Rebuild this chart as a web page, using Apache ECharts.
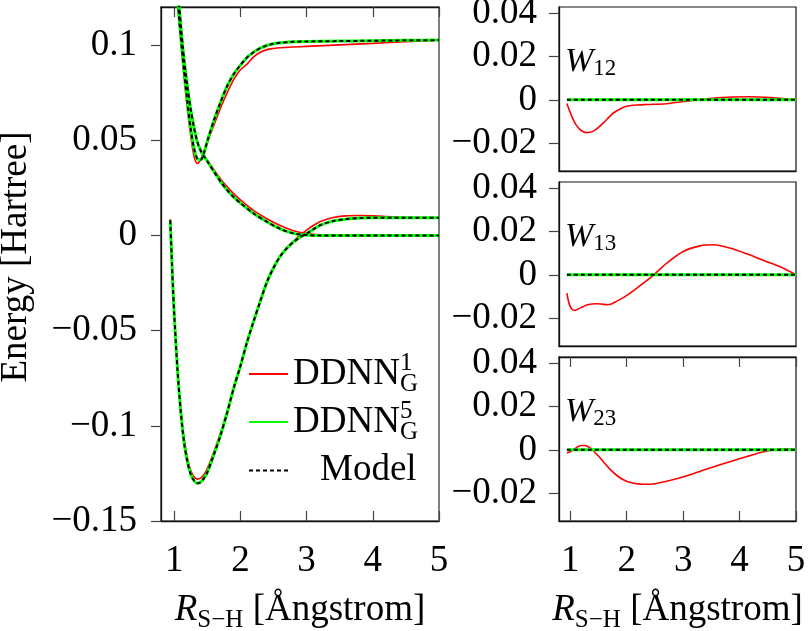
<!DOCTYPE html>
<html>
<head>
<meta charset="utf-8">
<script src="https://cdn.jsdelivr.net/npm/echarts@6/dist/echarts.min.js"></script>
<style>html,body{margin:0;padding:0;background:#fff;}#c{width:810px;height:631px;}</style>
</head>
<body>
<div id="c"></div>
<script>
// ---------- data ----------
const xTicks = [1, 2, 3, 4, 5];
const yTicksLeft = [-0.15, -0.1, -0.05, 0, 0.05, 0.1];
const yTicksRight = [-0.02, 0, 0.02, 0.04];

// lowest curve
const xA = [0.94, 0.96, 0.98, 1.0, 1.05, 1.1, 1.15, 1.2, 1.25, 1.3, 1.35, 1.4, 1.45, 1.5, 1.6, 1.7, 1.8, 1.9, 2.0, 2.1, 2.2, 2.3, 2.4, 2.5, 2.6, 2.7, 2.8, 2.9, 3.0, 3.1, 3.2, 3.4, 3.6, 3.8, 4.0, 4.5, 5.0];
const modelA = [0.008, -0.010, -0.027, -0.0415, -0.071, -0.093, -0.109, -0.119, -0.1255, -0.1288, -0.1302, -0.1296, -0.1275, -0.1245, -0.115, -0.105, -0.093, -0.080, -0.0685, -0.056, -0.045, -0.0345, -0.0245, -0.017, -0.011, -0.0068, -0.0035, -0.001, 0.001, 0.0032, 0.0053, 0.0076, 0.0086, 0.0091, 0.0093, 0.0093, 0.0093];
const red1A = [0.0085, -0.009, -0.026, -0.0405, -0.070, -0.0915, -0.107, -0.117, -0.1235, -0.1268, -0.128, -0.1275, -0.1255, -0.1225, -0.1135, -0.1035, -0.0925, -0.0805, -0.069, -0.0565, -0.0455, -0.035, -0.025, -0.0175, -0.0112, -0.0065, -0.003, 0.0002, 0.0028, 0.0052, 0.0072, 0.0094, 0.0103, 0.0105, 0.0103, 0.0095, 0.0093];

// upper curve (with minimum)
const xB = [0.94, 1.0, 1.05, 1.1, 1.15, 1.2, 1.25, 1.3, 1.35, 1.4, 1.45, 1.5, 1.6, 1.7, 1.8, 1.9, 2.0, 2.1, 2.2, 2.3, 2.4, 2.5, 2.6, 2.8, 3.0, 3.5, 4.0, 4.5, 5.0];
const modelB = [0.17, 0.143, 0.124, 0.104, 0.086, 0.0695, 0.056, 0.0455, 0.0402, 0.0398, 0.0435, 0.0495, 0.0605, 0.070, 0.0785, 0.0848, 0.0895, 0.0935, 0.0963, 0.0984, 0.0998, 0.1007, 0.1012, 0.1017, 0.1019, 0.1021, 0.1023, 0.1025, 0.1026];
const red1B = [0.17, 0.142, 0.122, 0.102, 0.083, 0.066, 0.052, 0.0415, 0.0378, 0.040, 0.0445, 0.049, 0.058, 0.067, 0.075, 0.082, 0.087, 0.090, 0.0938, 0.0962, 0.0976, 0.0982, 0.0986, 0.099, 0.0993, 0.1001, 0.1009, 0.1018, 0.1026];

// middle (repulsive) curve
const xC = [0.94, 1.0, 1.05, 1.1, 1.15, 1.2, 1.25, 1.3, 1.35, 1.4, 1.45, 1.5, 1.6, 1.7, 1.8, 1.9, 2.0, 2.2, 2.4, 2.6, 2.8, 3.0, 3.2, 3.5, 4.0, 4.5, 5.0];
const modelC = [0.21, 0.16, 0.132, 0.11, 0.092, 0.078, 0.066, 0.0565, 0.049, 0.0445, 0.0415, 0.039, 0.0335, 0.0283, 0.0238, 0.0201, 0.017, 0.0115, 0.0072, 0.0035, 0.0011, 0.0002, 0.0, 0.0, 0.0, 0.0, 0.0];
const red1C = [0.21, 0.16, 0.132, 0.11, 0.092, 0.078, 0.066, 0.057, 0.0495, 0.045, 0.042, 0.0395, 0.0345, 0.0297, 0.0255, 0.0218, 0.0187, 0.013, 0.0088, 0.0052, 0.0025, 0.001, 0.0004, 0.0002, 0.0001, 0.0, 0.0];

// couplings (DDNN^1); DDNN^5 and model are zero
const xW12 = [0.94, 1.0, 1.05, 1.1, 1.17, 1.23, 1.29, 1.35, 1.41, 1.5, 1.59, 1.7, 1.77, 1.9, 2.0, 2.2, 2.36, 2.7, 3.07, 3.42, 3.78, 4.19, 4.6, 5.0];
const red1W12 = [-0.0017, -0.0060, -0.0091, -0.0115, -0.0137, -0.0148, -0.0152, -0.0150, -0.0145, -0.0128, -0.0106, -0.0077, -0.006, -0.0040, -0.0030, -0.0024, -0.0022, -0.0018, -0.0006, 0.0005, 0.0012, 0.0014, 0.0009, 0.0001];
const xW13 = [0.94, 0.97, 1.0, 1.04, 1.08, 1.13, 1.2, 1.29, 1.38, 1.47, 1.56, 1.65, 1.74, 1.82, 1.94, 2.06, 2.18, 2.3, 2.48, 2.71, 3.0, 3.3, 3.54, 3.84, 4.13, 4.43, 4.73, 5.0];
const red1W13 = [-0.0085, -0.0125, -0.0148, -0.0162, -0.0165, -0.0160, -0.0151, -0.0140, -0.0135, -0.0134, -0.0136, -0.0139, -0.0134, -0.0123, -0.0106, -0.0085, -0.0062, -0.0038, 0.0, 0.0054, 0.0108, 0.0134, 0.0139, 0.0123, 0.0097, 0.0066, 0.0036, 0.0];
const xW23 = [0.94, 1.0, 1.07, 1.14, 1.2, 1.26, 1.32, 1.38, 1.45, 1.53, 1.62, 1.71, 1.82, 1.94, 2.08, 2.24, 2.36, 2.5, 2.71, 3.07, 3.42, 3.78, 4.13, 4.43, 4.73, 4.85, 5.0];
const red1W23 = [-0.0015, -0.0009, 0.0003, 0.0015, 0.002, 0.002, 0.0014, 0.0003, -0.0016, -0.0038, -0.0066, -0.0092, -0.0118, -0.0139, -0.0153, -0.0159, -0.016, -0.0157, -0.0146, -0.012, -0.0089, -0.0059, -0.0031, -0.0009, 0.0003, 0.0005, 0.0];
const xZero = [0.94, 5.0];
const zeroW = [0, 0];

// ---------- chart ----------
const FONT = 'Liberation Serif';
const FS = 37;
const pts = (xs, ys) => xs.map((x, i) => [x, ys[i]]);
const fmt = v => (v < 0 ? '\u2212' : '') + String(Math.abs(v));

const STY = {
  DDNN1: { color: '#ff0000', width: 1.6, type: 'solid' },
  DDNN5: { color: '#00ff00', width: 3, type: 'solid' },
  Model: { color: '#000000', width: 2, type: [4, 3] }
};
function ser(name, xs, ys, idx) {
  const s = STY[name];
  return {
    type: 'line', name: name, xAxisIndex: idx.x, yAxisIndex: idx.y,
    data: pts(xs, ys), showSymbol: false, symbol: 'none',
    smooth: 0.3, clip: true,
    color: s.color,
    lineStyle: { color: s.color, width: s.width, type: s.type },
    z: name === 'Model' ? 4 : (name === 'DDNN5' ? 3 : 2),
    silent: true
  };
}

const gridL = { left: 161, top: 7, width: 278, height: 514 };
const gR = [
  { left: 559, top: 7, width: 237, height: 164 },
  { left: 559, top: 182, width: 237, height: 164 },
  { left: 559, top: 357, width: 237, height: 164 }
];
const grids = [gridL].concat(gR).map(g => Object.assign({ show: true, borderColor: '#111', borderWidth: 1.2, backgroundColor: 'transparent', containLabel: false, outerBoundsMode: 'none' }, g));

const axisLineBlack = { show: true, onZero: false, lineStyle: { color: '#111', width: 1.3 } };
const tickInX = { show: true, inside: true, length: 10, customValues: xTicks, lineStyle: { color: '#444', width: 1.2 } };
const noTick = { show: false };
const xLabel = { show: true, customValues: xTicks, fontFamily: FONT, fontSize: FS, color: '#000', margin: 22, formatter: v => String(v) };

const nameRich = {
  r: { fontFamily: FONT, fontStyle: 'italic', fontSize: FS, lineHeight: 46, color: '#000' },
  s: { fontFamily: FONT, fontSize: 25, verticalAlign: 'bottom', color: '#000' },
  t: { fontFamily: FONT, fontSize: FS, lineHeight: 46, color: '#000' }
};
const xName = '{r|R}{s|S\u2212H}{t| [\u00C5ngstrom]}';

const xAxes = [
  { type: 'value', gridIndex: 0, min: 0.8, max: 5, position: 'bottom', axisLine: axisLineBlack, axisTick: tickInX, axisLabel: xLabel, splitLine: { show: false },
    name: xName, nameLocation: 'middle', nameGap: 66, nameTextStyle: { rich: nameRich } },
  { type: 'value', gridIndex: 0, min: 0.8, max: 5, position: 'top', axisLine: axisLineBlack, axisTick: tickInX, axisLabel: { show: false }, splitLine: { show: false } },
  { type: 'value', gridIndex: 1, min: 0.8, max: 5, position: 'bottom', axisLine: axisLineBlack, axisTick: noTick, axisLabel: { show: false }, splitLine: { show: false } },
  { type: 'value', gridIndex: 2, min: 0.8, max: 5, position: 'bottom', axisLine: axisLineBlack, axisTick: noTick, axisLabel: { show: false }, splitLine: { show: false } },
  { type: 'value', gridIndex: 3, min: 0.8, max: 5, position: 'bottom', axisLine: axisLineBlack, axisTick: tickInX, axisLabel: xLabel, splitLine: { show: false },
    name: xName, nameLocation: 'middle', nameGap: 66, nameTextStyle: { rich: nameRich } },
  { type: 'value', gridIndex: 3, min: 0.8, max: 5, position: 'top', axisLine: axisLineBlack, axisTick: tickInX, axisLabel: { show: false }, splitLine: { show: false } }
];

const yTickOut = vals => ({ show: true, inside: false, length: 10, customValues: vals, lineStyle: { color: '#444', width: 1.2 } });
const yLab = (vals, m) => ({ show: true, customValues: vals, fontFamily: FONT, fontSize: FS, color: '#000', margin: m, formatter: fmt });

const yAxes = [
  { type: 'value', gridIndex: 0, min: -0.15, max: 0.12, position: 'left', axisLine: axisLineBlack, axisTick: yTickOut(yTicksLeft), axisLabel: yLab(yTicksLeft, 24), splitLine: { show: false },
    name: 'Energy [Hartree]', nameLocation: 'middle', nameGap: 126, nameTextStyle: { fontFamily: FONT, fontSize: FS, color: '#000', padding: [0, 0, 0, 14] } },
  { type: 'value', gridIndex: 0, min: -0.15, max: 0.12, position: 'right', axisLine: { show: true, onZero: false, lineStyle: { color: '#808080', width: 2 } }, axisTick: noTick, axisLabel: { show: false }, splitLine: { show: false } },
  { type: 'value', gridIndex: 1, min: -0.033, max: 0.043, position: 'left', axisLine: axisLineBlack, axisTick: yTickOut(yTicksRight), axisLabel: yLab(yTicksRight, 22), splitLine: { show: false } },
  { type: 'value', gridIndex: 2, min: -0.033, max: 0.043, position: 'left', axisLine: axisLineBlack, axisTick: yTickOut(yTicksRight), axisLabel: yLab(yTicksRight, 22), splitLine: { show: false } },
  { type: 'value', gridIndex: 3, min: -0.033, max: 0.043, position: 'left', axisLine: axisLineBlack, axisTick: yTickOut(yTicksRight), axisLabel: yLab(yTicksRight, 22), splitLine: { show: false } }
];

const L = { x: 0, y: 0 };
const R1 = { x: 2, y: 2 }, R2 = { x: 3, y: 3 }, R3 = { x: 4, y: 4 };
const series = [
  ser('DDNN1', xA, red1A, L), ser('DDNN1', xB, red1B, L), ser('DDNN1', xC, red1C, L),
  ser('DDNN5', xA, modelA, L), ser('DDNN5', xB, modelB, L), ser('DDNN5', xC, modelC, L),
  ser('Model', xA, modelA, L), ser('Model', xB, modelB, L), ser('Model', xC, modelC, L),
  ser('DDNN1', xW12, red1W12, R1), ser('DDNN5', xZero, zeroW, R1), ser('Model', xZero, zeroW, R1),
  ser('DDNN1', xW13, red1W13, R2), ser('DDNN5', xZero, zeroW, R2), ser('Model', xZero, zeroW, R2),
  ser('DDNN1', xW23, red1W23, R3), ser('DDNN5', xZero, zeroW, R3), ser('Model', xZero, zeroW, R3)
];

const legendRich = {
  d: { fontFamily: FONT, fontSize: FS, lineHeight: 46, color: '#000' },
  p: { fontFamily: FONT, fontSize: 25, lineHeight: 36, verticalAlign: 'top', padding: [0, -12.5, 0, 0], color: '#000' },
  b: { fontFamily: FONT, fontSize: 25, lineHeight: 18, verticalAlign: 'bottom', color: '#000' },
  m: { fontFamily: FONT, fontSize: FS, lineHeight: 46, padding: [5, 0, 5, 27], color: '#000' }
};

const wRich = {
  w: { fontFamily: FONT, fontStyle: 'italic', fontSize: 34, lineHeight: 36, color: '#000' },
  s: { fontFamily: FONT, fontSize: 23, lineHeight: 20, verticalAlign: 'bottom', color: '#000' }
};
const wLabel = (txt, top) => ({ type: 'text', left: 565, top: top, z: 10, silent: true,
  style: { text: '{w|W}{s|' + txt + '}', rich: wRich } });

const option = {
  animation: false,
  backgroundColor: '#fff',
  grid: grids,
  xAxis: xAxes,
  yAxis: yAxes,
  legend: {
    show: true, orient: 'vertical', left: 248, top: 351, padding: 0, itemGap: 2,
    itemWidth: 39, itemHeight: 14, selectedMode: false,
    itemStyle: { opacity: 0 },
    data: ['DDNN1', 'DDNN5', 'Model'],
    formatter: n => n === 'Model' ? '{m|Model}' : '{d|DDNN}{p|' + (n === 'DDNN1' ? '1' : '5') + '}{b|G}',
    textStyle: { fontFamily: FONT, fontSize: FS, color: '#000', rich: legendRich }
  },
  graphic: [wLabel('12', 45), wLabel('13', 220), wLabel('23', 395)],
  series: series
};

const chart = echarts.init(document.getElementById('c'), null, { renderer: 'canvas' });
chart.setOption(option);
</script>
</body>
</html>
